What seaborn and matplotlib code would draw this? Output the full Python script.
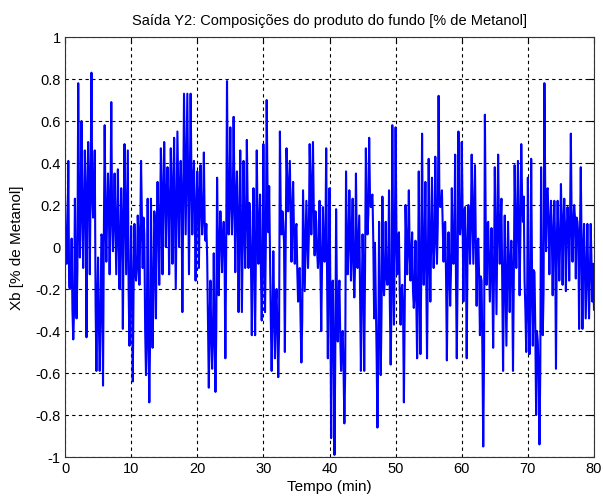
import matplotlib
matplotlib.use("Agg")
import matplotlib.pyplot as plt
import seaborn as sns
import pandas as pd

# Per 0.5-min segment: highest spike, dense-core level, lowest spike
seg_high = [
    0.25, 0.41, 0.04, 0.23, 0.78, 0.60, 0.46, 0.50, 0.83, 0.46,
    -0.05, 0.06, 0.58, 0.35, 0.69, 0.35, 0.37, 0.28, 0.49, 0.46,
    0.10, 0.11, 0.15, 0.41, 0.06, 0.23, 0.23, 0.17, 0.31, 0.47,
    0.50, 0.38, 0.47, 0.52, 0.55, 0.41, 0.73, 0.73, 0.73, 0.41,
    0.36, 0.39, 0.45, -0.05, -0.16, -0.03, 0.33, 0.17, 0.12, 0.79,
    0.57, 0.62, 0.36, 0.46, 0.41, 0.51, 0.17, 0.28, 0.46, 0.25,
    0.49, 0.70, -0.04, -0.02, -0.20, 0.55, 0.12, 0.47, 0.41, 0.31,
    0.11, -0.10, 0.27, 0.22, 0.49, 0.50, 0.12, 0.22, 0.19, 0.47,
    0.28, -0.16, 0.18, -0.16, -0.40, 0.36, 0.27, 0.23, 0.35, 0.15,
    0.06, 0.47, 0.52, 0.25, -0.26, 0.12, 0.24, 0.12, 0.27, 0.58,
    0.57, 0.07, -0.18, 0.20, 0.27, 0.07, 0.03, 0.36, 0.54, 0.31,
    0.42, 0.33, 0.43, 0.72, 0.27, 0.12, 0.07, 0.28, 0.44, 0.55,
    0.50, 0.19, 0.20, 0.44, 0.39, 0.04, -0.16, 0.63, 0.12, 0.09,
    0.38, 0.44, 0.23, 0.15, 0.12, 0.03, 0.39, 0.41, 0.49, -0.16,
    0.33, 0.42, -0.12, -0.45, 0.38, 0.78, 0.28, 0.22, 0.22, 0.22,
    0.30, 0.23, 0.19, 0.54, 0.20, 0.12, 0.38, 0.11, 0.11, 0.11,
]
seg_core = [
    0.02, -0.19, -0.30, -0.11, 0.21, 0.17, 0.24, 0.30, 0.24, -0.27,
    -0.37, 0.05, 0.16, 0.21, 0.14, 0.11, 0.02, 0.11, 0.17, -0.21,
    -0.19, -0.11, 0.05, 0.14, -0.40, -0.43, -0.21, 0.11, 0.11, 0.24,
    0.25, 0.21, 0.27, 0.17, 0.29, 0.24, 0.40, 0.29, 0.32, 0.17,
    0.24, 0.17, 0.11, -0.35, -0.43, -0.40, 0.02, 0.05, -0.02, 0.25,
    0.21, 0.24, 0.11, 0.05, 0.11, 0.21, -0.08, -0.03, 0.11, -0.11,
    0.02, 0.29, -0.35, -0.27, -0.40, 0.17, 0.02, 0.29, 0.17, 0.08,
    -0.11, -0.35, 0.02, 0.05, 0.29, 0.17, -0.02, -0.08, 0.02, -0.11,
    -0.19, -0.51, -0.24, -0.43, -0.59, 0.02, 0.05, -0.08, 0.02, -0.24,
    -0.11, 0.16, 0.24, 0.02, -0.51, -0.30, -0.14, -0.14, -0.27, 0.02,
    0.05, -0.21, -0.30, 0.02, -0.03, -0.21, -0.24, -0.14, -0.02, -0.11,
    0.02, 0.02, 0.11, 0.21, 0.11, -0.14, -0.11, 0.02, -0.14, 0.11,
    0.17, -0.02, 0.11, 0.17, 0.02, -0.14, -0.51, 0.11, -0.08, -0.14,
    0.05, 0.11, -0.17, -0.17, -0.08, -0.14, 0.11, 0.08, 0.24, -0.30,
    -0.27, -0.11, -0.40, -0.59, -0.21, 0.27, 0.11, 0.05, 0.02, 0.02,
    0.11, 0.08, 0.11, 0.11, 0.14, 0.05, -0.02, -0.11, -0.14, -0.08,
]
seg_low = [
    -0.08, -0.20, -0.44, -0.34, -0.05, -0.10, -0.43, -0.13, 0.14, -0.59,
    -0.59, -0.66, -0.07, -0.13, -0.02, -0.13, -0.20, -0.39, -0.13, -0.47,
    -0.64, -0.16, -0.18, -0.10, -0.61, -0.74, -0.48, -0.34, -0.18, -0.13,
    0.00, -0.13, -0.08, -0.20, 0.00, -0.31, 0.06, -0.13, 0.06, -0.16,
    -0.10, 0.06, 0.03, -0.67, -0.58, -0.69, -0.23, -0.12, -0.53, 0.06,
    0.06, -0.12, -0.31, -0.31, -0.10, -0.10, -0.42, -0.42, -0.08, -0.35,
    -0.31, 0.07, -0.59, -0.53, -0.62, 0.06, -0.50, 0.17, -0.07, -0.08,
    -0.26, -0.55, -0.21, -0.10, 0.06, -0.04, -0.10, -0.40, -0.07, -0.53,
    -0.91, -0.99, -0.45, -0.59, -0.84, -0.13, -0.16, -0.24, -0.10, -0.59,
    -0.59, 0.06, 0.19, -0.34, -0.86, -0.61, -0.23, -0.18, -0.56, -0.37,
    -0.13, -0.37, -0.74, -0.13, -0.16, -0.29, -0.53, -0.51, -0.18, -0.53,
    -0.26, -0.10, -0.08, 0.19, -0.07, -0.54, -0.28, -0.08, -0.53, 0.06,
    -0.26, -0.53, -0.08, -0.08, -0.28, -0.42, -0.95, -0.18, -0.26, -0.48,
    -0.32, -0.08, -0.59, -0.47, -0.31, -0.59, -0.10, -0.23, 0.12, -0.50,
    -0.51, -0.47, -0.80, -0.94, -0.42, -0.02, -0.13, -0.23, -0.58, -0.16,
    -0.18, -0.21, -0.16, -0.07, -0.15, -0.39, -0.39, -0.34, -0.34, -0.26,
]
end_value = -0.30
seg_len = 0.5  # minutes per segment

title = "Saída Y2: Composições do produto do fundo [% de Metanol]"
xlabel = "Tempo (min)"
ylabel = "Xb [% de Metanol]"
xticks = [0, 10, 20, 30, 40, 50, 60, 70, 80]
yticks = [-1, -0.8, -0.6, -0.4, -0.2, 0, 0.2, 0.4, 0.6, 0.8, 1]
ytick_labels = ["-1", "-0.8", "-0.6", "-0.4", "-0.2", "0", "0.2", "0.4", "0.6", "0.8", "1"]

# Build the sampled signal: high, core, low, core within each segment
times, vals = [], []
step = seg_len / 4
for k, (h, c, l) in enumerate(zip(seg_high, seg_core, seg_low)):
    t0 = k * seg_len
    times += [t0, t0 + step, t0 + 2 * step, t0 + 3 * step]
    vals += [h, c, l, c]
times.append(len(seg_high) * seg_len)
vals.append(end_value)
df = pd.DataFrame({"t": times, "xb": vals})

sns.set_theme(style="white")
plt.rcParams["font.family"] = ["Liberation Sans", "DejaVu Sans"]

fig = plt.figure(figsize=(6.03, 5.02), dpi=100)
ax = fig.add_axes([65 / 603, 44 / 502, 529 / 603, 420 / 502])
sns.lineplot(data=df, x="t", y="xb", ax=ax, color="#0000FF", linewidth=1.5,
             estimator=None, sort=False)

ax.set_xlim(0, 80)
ax.set_ylim(-1, 1)
ax.set_xticks(xticks)
ax.set_xticklabels([str(v) for v in xticks])
ax.set_yticks(yticks)
ax.set_yticklabels(ytick_labels)
ax.tick_params(direction="in", length=4, width=0.8, colors="black", labelsize=10.5,
               top=True, right=True, pad=3)
ax.grid(True, color="black", linestyle=(0, (3, 3)), linewidth=0.8)
for s in ax.spines.values():
    s.set_color("#333333")
    s.set_linewidth(0.8)
    s.set_visible(True)
ax.set_title(title, fontsize=10.5, pad=9, color="black")
ax.set_xlabel(xlabel, fontsize=11, labelpad=3, color="black")
ax.set_ylabel(ylabel, fontsize=11, labelpad=8, color="black")
fig.patch.set_facecolor("white")
fig.savefig("out.png", dpi=100)
